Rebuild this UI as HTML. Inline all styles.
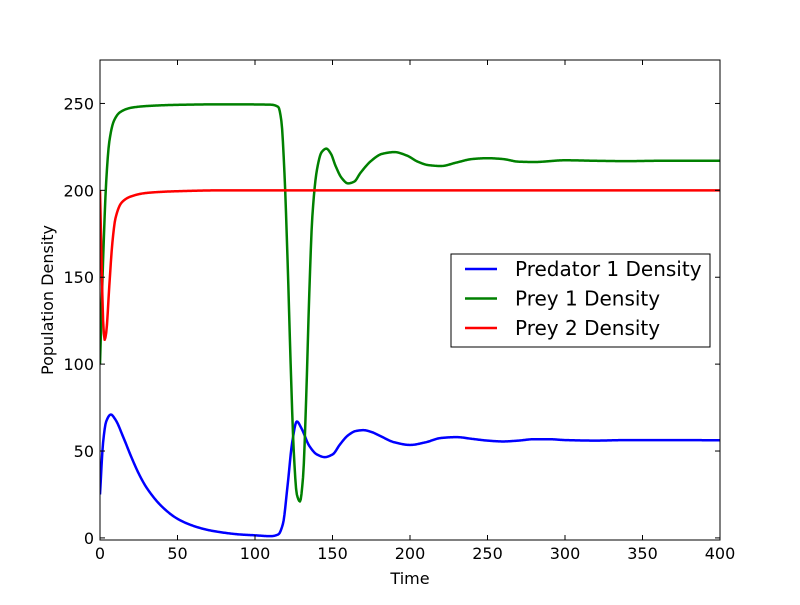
<!DOCTYPE html>
<html><head><meta charset="utf-8"><style>
body{margin:0;background:#fff;}
svg{font-family:"DejaVu Sans","Liberation Sans",sans-serif;}
</style></head><body>
<svg id="chart" width="800" height="600" viewBox="0 0 800 600" xmlns="http://www.w3.org/2000/svg">
<rect width="800" height="600" fill="#fff"/>
<g id="plot"></g>
</svg>
<script>
const xTicks=[0,50,100,150,200,250,300,350,400];
const yTicks=[0,50,100,150,200,250];
const predT=[0,2,4,7,10,15,20,25,30,40,50,60,70,80,90,100,110,115,118,121,124,127,130,135,140,145,150,155,160,165,170,175,180,190,200,210,220,230,240,250,260,270,280,290,300,320,340,360,400];
const predV=[25,55,67,71,68,58,47,37,29,18,11,7,4.5,3,2,1.5,1,2,8,30,55,67,63,53,48,46.5,48,54,59,61.5,62,61,59,55,53.5,55,57.5,58,57,56,55.5,56,56.8,56.8,56.3,56,56.3,56.3,56.2];
const prey1T=[0,2,4,6,9,13,20,30,50,80,110,115,117,119,121,123,125,127,129,131,133,135,137,140,143,146,149,152,156,160,164,168,175,182,190,198,205,212,220,230,240,250,260,270,280,300,320,340,360,400];
const prey1V=[100,160,205,228,240,245,247.5,248.5,249.2,249.5,249.3,248,240,210,160,100,50,25,21,35,80,140,185,212,222,224,221,214,207,204,205,210,217,221,222,220,216.5,214.5,214,216,218,218.5,218,216.5,216.3,217.3,217,216.8,217,217];
const prey2T=[0,1,2,3,4,6,8,10,14,20,30,50,80,400];
const prey2V=[200,160,125,114,118,145,170,184,193,196.5,198.5,199.5,200,200];
const L=100,R=720,T=60,B=540,xMin=0,xMax=400,yMin=-1.2,yMax=275;
const sx=v=>L+(v-xMin)/(xMax-xMin)*(R-L);
const sy=v=>B-(v-yMin)/(yMax-yMin)*(B-T);
const NS="http://www.w3.org/2000/svg";
const g=document.getElementById('plot');
function el(tag,attrs,parent){const e=document.createElementNS(NS,tag);for(const k in attrs)e.setAttribute(k,attrs[k]);(parent||g).appendChild(e);return e;}
function path(ts,vs){
  const n=ts.length,h=[],d=[],m=new Array(n);
  for(let i=0;i<n-1;i++){h.push(ts[i+1]-ts[i]);d.push((vs[i+1]-vs[i])/h[i]);}
  m[0]=d[0];m[n-1]=d[n-2];
  for(let i=1;i<n-1;i++){if(d[i-1]*d[i]<=0)m[i]=0;else{const w1=2*h[i]+h[i-1],w2=h[i]+2*h[i-1];m[i]=(w1+w2)/(w1/d[i-1]+w2/d[i]);}}
  let s=`M${sx(ts[0])},${sy(vs[0])}`;
  for(let i=0;i<n-1;i++){const steps=Math.max(2,Math.ceil(h[i]*2));
    for(let k=1;k<=steps;k++){const u=k/steps,hh=h[i];
      const h00=2*u*u*u-3*u*u+1,h10=u*u*u-2*u*u+u,h01=-2*u*u*u+3*u*u,h11=u*u*u-u*u;
      const y=h00*vs[i]+h10*hh*m[i]+h01*vs[i+1]+h11*hh*m[i+1];
      s+=` L${sx(ts[i]+u*hh).toFixed(2)},${sy(y).toFixed(2)}`;}}
  return s;}
const series=[["predator-1-line",predT,predV,"#0000ff"],["prey-1-line",prey1T,prey1V,"#008000"],["prey-2-line",prey2T,prey2V,"#ff0000"]];
const cp=el('clipPath',{id:'clip'});el('rect',{x:L,y:T,width:R-L,height:B-T},cp);
series.forEach(s=>{const e=el('path',{d:path(s[1],s[2]),fill:'none',stroke:s[3],'stroke-width':2.5,'stroke-linejoin':'round','clip-path':'url(#clip)'});

});
xTicks.forEach(v=>{const x=sx(v);el('line',{x1:x,x2:x,y1:B,y2:B-5,stroke:'#000'});el('line',{x1:x,x2:x,y1:T,y2:T+5,stroke:'#000'});
const t=el('text',{x:x,y:B+19,'text-anchor':'middle','font-size':16});t.textContent=v;

});
yTicks.forEach(v=>{const y=sy(v);el('line',{x1:L,x2:L+5,y1:y,y2:y,stroke:'#000'});el('line',{x1:R,x2:R-5,y1:y,y2:y,stroke:'#000'});
const t=el('text',{x:L-6,y:y+6,'text-anchor':'end','font-size':16});t.textContent=v;

});
const fr=el('rect',{x:L,y:T,width:R-L,height:B-T,fill:'none',stroke:'#000','stroke-width':1});


const xl=el('text',{x:410,y:584,'text-anchor':'middle','font-size':16});xl.textContent='Time';


const yl=el('text',{x:0,y:0,'text-anchor':'middle','font-size':16,transform:'translate(53,300) rotate(-90)'});yl.textContent='Population Density';


const lg=el('g',{});


el('rect',{x:451,y:254,width:259,height:93,fill:'#fff',stroke:'#000'},lg);
const names=["Predator 1 Density","Prey 1 Density","Prey 2 Density"];
names.forEach((n,i)=>{const y=269+i*29.5;const eg=el('g',{},lg);


el('line',{x1:465,x2:497,y1:y,y2:y,stroke:series[i][3],'stroke-width':2.5},eg);
const t=el('text',{x:515,y:y+7,'font-size':20},eg);t.textContent=n;});
</script>
</body></html>
